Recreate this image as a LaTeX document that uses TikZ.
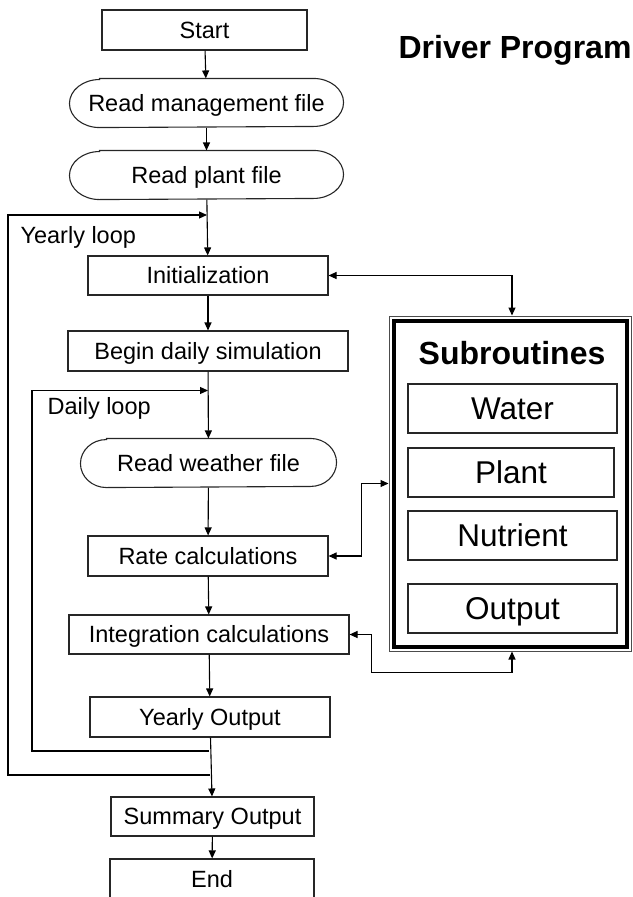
\documentclass[tikz,border=0pt]{standalone}
\usepackage{fontspec}
\setmainfont{Liberation Sans}
\usetikzlibrary{arrows.meta,calc}
\begin{document}
\begin{tikzpicture}[x=1pt,y=-1pt,
  line width=1.1pt,
  txt/.style={font=\fontsize{23.5}{28}\selectfont, text height=16.9pt, text depth=0pt, inner sep=0pt},
  box/.style={txt, draw=black!85, line width=1.1pt},
  stad/.style={txt},
  stadline/.style={draw=black!85, line width=1.1pt},
  sub/.style={draw=black!85, line width=1.1pt, inner sep=0pt, font=\fontsize{31.5}{36}\selectfont, text height=22.6pt, text depth=0pt},
  ttl/.style={inner sep=0pt, font=\bfseries\fontsize{32}{38}\selectfont},
  lbl/.style={inner sep=0pt, anchor=base west, font=\fontsize{23.5}{28}\selectfont},
  arr/.style={-{Triangle[length=8pt,width=7pt]}},
  darr/.style={{Triangle[length=8pt,width=7pt]}-{Triangle[length=8pt,width=7pt]}},
]
\useasboundingbox (0,0) rectangle (632,897);
\clip (0,0) rectangle (632,897);

% main column
\node[box, minimum width=205, minimum height=40] (start) at (204.5,30) {Start};
\node[stad, minimum width=273, minimum height=48] (mgmt) at (206.5,103) {Read management file};
\node[stad, minimum width=273, minimum height=48] (plant) at (206.5,175) {Read plant file};
\node[box, minimum width=240, minimum height=39] (init) at (208,275.5) {Initialization};
\node[box, minimum width=280, minimum height=40] (begin) at (208,351) {Begin daily simulation};
\node[stad, minimum width=255, minimum height=48] (weather) at (208.5,463) {Read weather file};
\node[box, minimum width=240, minimum height=40] (rate) at (208,556) {Rate calculations};
\node[box, minimum width=280, minimum height=39] (integ) at (209,634.5) {Integration calculations};
\node[box, minimum width=240, minimum height=40] (yout) at (210,717) {Yearly Output};
\node[box, minimum width=203, minimum height=39] (summ) at (212.5,816.5) {Summary Output};
\node[box, minimum width=204, minimum height=41] (end) at (212,879.5) {End};

% stadium outlines (y axis points down, so angles are mirrored)
\foreach \n/\r in {mgmt/30, plant/30, weather/26}{
  \draw[stadline] ([xshift=\r]\n.north west) -- ([xshift=-\r]\n.north east)
    arc[start angle=-90, end angle=90, x radius=\r, y radius=24]
    -- ([xshift=\r]\n.south west)
    arc[start angle=90, end angle=270, x radius=\r, y radius=24] -- cycle;
}

% labels
\node[lbl] (ylabel) at (20,243) {Yearly loop};
\node[lbl] (dlabel) at (47,414) {Daily loop};
\node[ttl, anchor=base west] (title) at (398,58) {Driver Program};

% subroutines frame
\node[draw=black!70, line width=1pt, minimum width=242, minimum height=335, inner sep=0pt] (subs) at (510,483.5) {};
\draw[line width=4pt] ($(subs.north west)+(5,5)$) rectangle ($(subs.south east)+(-5,-5)$);
\node[ttl, anchor=base] (subttl) at (512,364) {Subroutines};
\node[sub, minimum width=209, minimum height=49] (water) at (512.5,408.5) {Water};
\node[sub, minimum width=206, minimum height=49] (plantS) at (511,472.5) {Plant};
\node[sub, minimum width=209, minimum height=49] (nutr) at (512.5,535.5) {Nutrient};
\node[sub, minimum width=209, minimum height=49] (outp) at (512.5,608.5) {Output};

% main flow connectors
\draw[arr] (start) -- (mgmt);
\draw[arr] (mgmt) -- (plant);
\draw[arr] (plant) -- (init);
\draw[arr] (init) -- (begin);
\draw[arr] (begin) -- (weather);
\draw[arr] (weather) -- (rate);
\draw[arr] (rate) -- (integ);
\draw[arr] (integ) -- (yout);
\draw[arr] (yout) -- (summ);
\draw[arr] (summ) -- (end);

% loops
\coordinate (yin) at (207,215);
\coordinate (yret) at (209.5,775);
\coordinate (din) at (208,390.5);
\coordinate (dret) at (209,751);
\draw[arr] (yret) -| (8,215) -- (yin);
\draw[arr] (dret) -| (32,390.5) -- (din);

% subroutine connectors
\draw[darr] (init.east) -| ([xshift=2]subs.north);
\draw[darr] (rate.east) -- ++(33,0) |- (subs.west);
\draw[darr] (integ.east) -- ++(22,0) -- ++(0,38) -| ([xshift=2]subs.south);
\end{tikzpicture}
\end{document}
